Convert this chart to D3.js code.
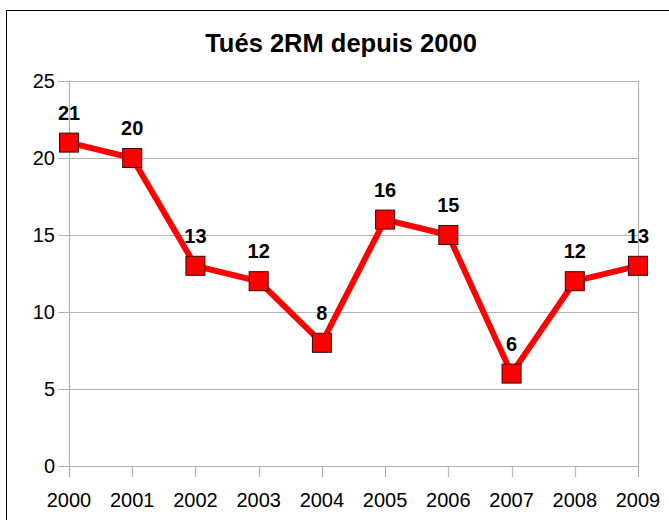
<!DOCTYPE html>
<html lang="fr">
  <head>
    <meta charset="UTF-8" />
    <title>Tués 2RM depuis 2000</title>
    <script src="https://d3js.org/d3.v7.min.js"></script>
    <style>
      body {
        margin: 0;
        background: #fff;
        font-family: "Liberation Sans", Arial, sans-serif;
      }
      svg {
        display: block;
      }
    </style>
  </head>
  <body>
    <svg id="chart"></svg>

    <script>
      // data
      const years = ["2000", "2001", "2002", "2003", "2004", "2005", "2006", "2007", "2008", "2009"];
      const killed = [21, 20, 13, 12, 8, 16, 15, 6, 12, 13];
      const yTicks = [0, 5, 10, 15, 20, 25];
      const title = "Tués 2RM depuis 2000";

      const width = 669;
      const height = 520;

      const svg = d3
        .select("#chart")
        .attr("width", width)
        .attr("height", height)
        .attr("viewBox", [0, 0, width, height]);

      // outer frame (runs off the right / bottom edges)
      svg
        .append("rect")
        .attr("x", 6.5)
        .attr("y", 10.5)
        .attr("width", 720)
        .attr("height", 600)
        .attr("fill", "#fff")
        .attr("stroke", "#000")
        .attr("stroke-width", 1);

      const x = d3.scalePoint().domain(years).range([69, 638]);
      const y = d3.scaleLinear().domain([0, 25]).range([466, 81]);

      // horizontal gridlines + left tick stubs
      svg
        .append("g")
        .selectAll("line")
        .data(yTicks)
        .join("line")
        .attr("x1", 58)
        .attr("x2", 638)
        .attr("y1", (d) => Math.round(y(d)) + 0.5)
        .attr("y2", (d) => Math.round(y(d)) + 0.5)
        .attr("stroke", "#b3b3b3")
        .attr("stroke-width", 1.2);

      // plot sides
      svg
        .append("g")
        .selectAll("line")
        .data([years[0], years[years.length - 1]])
        .join("line")
        .attr("x1", (d) => Math.round(x(d)) + 0.5)
        .attr("x2", (d) => Math.round(x(d)) + 0.5)
        .attr("y1", y(25))
        .attr("y2", y(0))
        .attr("stroke", "#b3b3b3")
        .attr("stroke-width", 1.2);

      // bottom tick stubs
      svg
        .append("g")
        .selectAll("line")
        .data(years)
        .join("line")
        .attr("x1", (d) => Math.round(x(d)) + 0.5)
        .attr("x2", (d) => Math.round(x(d)) + 0.5)
        .attr("y1", y(0))
        .attr("y2", y(0) + 11)
        .attr("stroke", "#b3b3b3")
        .attr("stroke-width", 1.2);

      // y labels
      svg
        .append("g")
        .selectAll("text")
        .data(yTicks)
        .join("text")
        .attr("x", 55)
        .attr("y", (d) => y(d) + 7)
        .attr("text-anchor", "end")
        .attr("font-size", 20)
        .attr("fill", "#000")
        .text((d) => d);

      // x labels
      svg
        .append("g")
        .selectAll("text")
        .data(years)
        .join("text")
        .attr("x", (d) => x(d))
        .attr("y", 507)
        .attr("text-anchor", "middle")
        .attr("font-size", 20)
        .attr("fill", "#000")
        .text((d) => d);

      const pts = years.map((yr, i) => ({ year: yr, value: killed[i] }));

      // the series line
      svg
        .append("path")
        .datum(pts)
        .attr("fill", "none")
        .attr("stroke", "#ff0000")
        .attr("stroke-width", 6)
        .attr("stroke-linejoin", "round")
        .attr(
          "d",
          d3
            .line()
            .x((d) => x(d.year))
            .y((d) => y(d.value))
        );

      // square markers
      const s = 19;
      svg
        .append("g")
        .selectAll("rect")
        .data(pts)
        .join("rect")
        .attr("x", (d) => x(d.year) - s / 2)
        .attr("y", (d) => y(d.value) - s / 2)
        .attr("width", s)
        .attr("height", s)
        .attr("fill", "#ff0000")
        .attr("stroke", "#400000")
        .attr("stroke-width", 1);

      // value labels
      svg
        .append("g")
        .selectAll("text")
        .data(pts)
        .join("text")
        .attr("x", (d) => x(d.year))
        .attr("y", (d) => y(d.value) - 23)
        .attr("text-anchor", "middle")
        .attr("font-size", 20)
        .attr("font-weight", "bold")
        .attr("fill", "#000")
        .text((d) => d.value);

      // title
      svg
        .append("text")
        .attr("x", 341)
        .attr("y", 52)
        .attr("text-anchor", "middle")
        .attr("font-size", 25.5)
        .attr("font-weight", "bold")
        .attr("fill", "#000")
        .text(title);
    </script>
  </body>
</html>
